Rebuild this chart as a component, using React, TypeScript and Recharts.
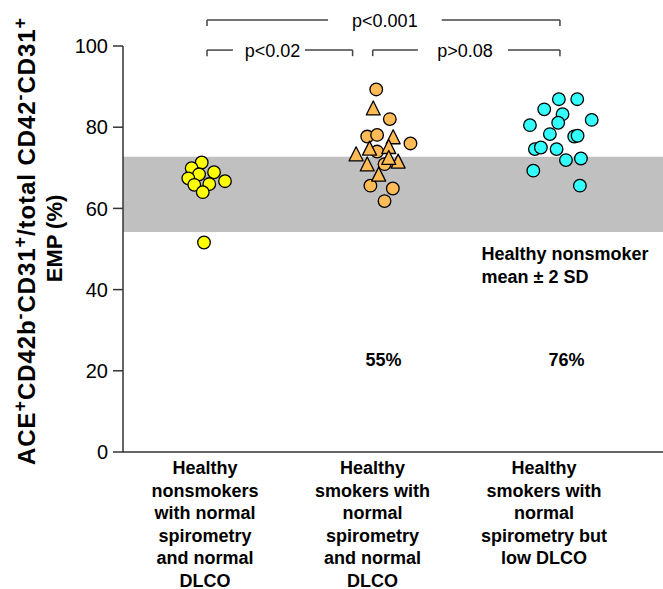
import React from "react";
import {
  ScatterChart,
  Scatter,
  XAxis,
  YAxis,
  ReferenceArea,
  ReferenceLine,
  ReferenceDot,
} from "recharts";

const FONT = "'Liberation Sans', Arial, sans-serif";

const categoryLabels = [
  ["Healthy", "nonsmokers", "with normal", "spirometry", "and normal", "DLCO"],
  ["Healthy", "smokers with", "normal", "spirometry", "and normal", "DLCO"],
  ["Healthy", "smokers with", "normal", "spirometry but", "low DLCO"],
];
const labelShift = [-2, -11, -16];

const yTicks = [0, 20, 40, 60, 80, 100];

// y title, [text, isSuperscript]
const titleParts: [string, boolean][] = [
  ["ACE", false], ["+", true], ["CD42b", false], ["-", true], ["CD31", false], ["+", true],
  ["/total CD42", false], ["-", true], ["CD31", false], ["+", true],
];

// healthy nonsmoker mean ± 2 SD
const bandLow = 54.2;
const bandHigh = 72.7;

// group 0: healthy nonsmokers
const nonsmokerJitter = [-0.03, -0.087, -0.045, 0.04, -0.106, -0.072, 0.013, 0.102, -0.024, -0.017];
const nonsmokerValues = [71.3, 69.9, 68.4, 68.9, 67.4, 65.8, 66.0, 66.7, 64.0, 51.6];

// group 1: smokers, normal DLCO (circles + triangles)
const smokerCircleJitter = [-0.041, 0.036, -0.092, -0.036, 0.153, -0.036, 0.006, -0.074, 0.053, 0.006];
const smokerCircleValues = [89.3, 82.0, 77.7, 78.1, 76.0, 74.0, 70.9, 65.6, 64.9, 61.8];
const smokerTriangleJitter = [-0.058, 0.055, -0.155, -0.079, 0.03, -0.092, 0.083, -0.027, 0.03];
const smokerTriangleValues = [84.5, 77.4, 73.2, 74.6, 75.0, 70.7, 71.4, 68.2, 72.3];

// group 2: smokers, low DLCO
const lowDlcoJitter = [-0.006, 0.098, -0.089, 0.015, 0.18, -0.17, -0.01, -0.057, 0.081, 0.1, -0.142, -0.108, -0.019, 0.034, 0.119, -0.151, 0.113];
const lowDlcoValues = [86.9, 86.9, 84.4, 83.2, 81.8, 80.5, 81.1, 78.3, 77.7, 77.9, 74.6, 75.0, 74.6, 71.9, 72.3, 69.3, 65.6];

const abnormalPct = ["55%", "76%"];

const brackets = [
  { x1: 0, x2: 2, gapFrom: 0.686, gapTo: 1.33, y: 106.4, label: "p<0.001", labelX: 1.008, labelY: 104.6 },
  { x1: 0, x2: 0.825, gapFrom: 0.147, gapTo: 0.555, y: 99.0, label: "p<0.02", labelX: 0.371, labelY: 97.4 },
  { x1: 0.939, x2: 2, gapFrom: 1.195, gapTo: 1.705, y: 99.0, label: "p>0.08", labelX: 1.462, labelY: 97.4 },
];

const X_DOMAIN: [number, number] = [-0.476, 2.584];

const toPoints = (group: number, jitter: number[], values: number[]) =>
  values.map((v, i) => ({ x: group + jitter[i], y: v }));

const nonsmokers = toPoints(0, nonsmokerJitter, nonsmokerValues);
const smokerCircles = toPoints(1, smokerCircleJitter, smokerCircleValues);
const smokerTriangles = toPoints(1, smokerTriangleJitter, smokerTriangleValues);
const lowDlco = toPoints(2, lowDlcoJitter, lowDlcoValues);

const dot = (fill: string) => (p: any) => (
  <circle cx={p.cx} cy={p.cy} r={6.3} fill={fill} stroke="#000" strokeWidth={1.3} />
);

const triangle = (fill: string) => (p: any) => (
  <polygon
    points={`${p.cx},${p.cy - 8} ${p.cx - 7},${p.cy + 6} ${p.cx + 7},${p.cy + 6}`}
    fill={fill}
    stroke="#000"
    strokeWidth={1.3}
    strokeLinejoin="round"
  />
);

const CategoryTick = ({ x, y, payload }: any) => {
  const i = Math.round(payload.value);
  const lines = categoryLabels[i] || [];
  return (
    <g>
      {lines.map((l, k) => (
        <text
          key={k}
          x={x + labelShift[i]}
          y={y + 22 + k * 22.5}
          textAnchor="middle"
          fontSize={18}
          fontWeight="bold"
          fontFamily={FONT}
          fill="#000"
        >
          {l}
        </text>
      ))}
    </g>
  );
};

const YTitle = () => (
  <g fontFamily={FONT} fontWeight="bold" fill="#000">
    <text
      transform="translate(27,233.5) rotate(-90)"
      textAnchor="middle"
      fontSize={24}
      textLength={447}
      lengthAdjust="spacing"
    >
      {titleParts.map(([t, sup], i) => {
        const prevSup = i > 0 && titleParts[i - 1][1];
        const dy = sup ? -9 : prevSup ? 9 : 0;
        return (
          <tspan key={i} dy={dy} fontSize={sup ? 18 : 24}>
            {t}
          </tspan>
        );
      })}
    </text>
    <text transform="translate(53.5,230.5) rotate(-90)" textAnchor="middle" fontSize={22}>
      EMP (%)
    </text>
  </g>
);

const textShape = (label: string, opts: any) => (p: any) => (
  <text x={p.cx} y={p.cy} fontFamily={FONT} fill="#000" {...opts}>
    {label}
  </text>
);

export default function App() {
  const lineStyle = { stroke: "#444", strokeWidth: 1.5 };
  return (
    <div style={{ position: "absolute", left: 8, top: 8, width: 655, height: 581, fontFamily: FONT }}>
      <ScatterChart width={655} height={581} margin={{ top: 38, right: 0, bottom: 12, left: 0 }}>
        <ReferenceArea
          x1={X_DOMAIN[0]}
          x2={X_DOMAIN[1]}
          y1={bandLow}
          y2={bandHigh}
          fill="#c0c0c0"
          fillOpacity={1}
          stroke="none"
        />
        <XAxis
          type="number"
          dataKey="x"
          domain={X_DOMAIN}
          allowDataOverflow
          ticks={[0, 1, 2]}
          tickLine={false}
          tickSize={0}
          tickMargin={0}
          height={125}
          axisLine={{ stroke: "#333", strokeWidth: 1.5 }}
          tick={<CategoryTick />}
        />
        <YAxis
          type="number"
          dataKey="y"
          domain={[0, 100]}
          ticks={yTicks}
          width={115}
          tickSize={10}
          tickMargin={5}
          axisLine={{ stroke: "#333", strokeWidth: 1.5 }}
          tickLine={{ stroke: "#333", strokeWidth: 1.5 }}
          tick={{ fill: "#000", fontSize: 20, fontFamily: FONT }}
          label={{ content: () => <YTitle /> }}
        />
        <Scatter data={nonsmokers} shape={dot("#ffff00")} isAnimationActive={false} />
        <Scatter data={smokerCircles} shape={dot("#ffbb55")} isAnimationActive={false} />
        <Scatter data={smokerTriangles} shape={triangle("#ffbb55")} isAnimationActive={false} />
        <Scatter data={lowDlco} shape={dot("#33ffff")} isAnimationActive={false} />

        {brackets.map((b, i) => [
          <ReferenceLine key={`a${i}`} ifOverflow="visible" {...lineStyle} segment={[{ x: b.x1, y: b.y - 1.5 }, { x: b.x1, y: b.y }]} />,
          <ReferenceLine key={`b${i}`} ifOverflow="visible" {...lineStyle} segment={[{ x: b.x1, y: b.y }, { x: b.gapFrom, y: b.y }]} />,
          <ReferenceLine key={`c${i}`} ifOverflow="visible" {...lineStyle} segment={[{ x: b.gapTo, y: b.y }, { x: b.x2, y: b.y }]} />,
          <ReferenceLine key={`d${i}`} ifOverflow="visible" {...lineStyle} segment={[{ x: b.x2, y: b.y - 1.5 }, { x: b.x2, y: b.y }]} />,
          <ReferenceDot
            key={`t${i}`}
            x={b.labelX}
            y={b.labelY}
            r={0}
            ifOverflow="visible"
            shape={textShape(b.label, { textAnchor: "middle", fontSize: 18 })}
          />,
        ])}

        {abnormalPct.map((t, i) => (
          <ReferenceDot
            key={t}
            x={i + 1 + (i === 0 ? 0 : 0.037)}
            y={21.1}
            r={0}
            ifOverflow="visible"
            shape={textShape(t, { textAnchor: "middle", fontSize: 18, fontWeight: "bold" })}
          />
        ))}
        <ReferenceDot
          x={1.556}
          y={47.3}
          r={0}
          ifOverflow="visible"
          shape={textShape("Healthy nonsmoker", { fontSize: 18, fontWeight: "bold" })}
        />
        <ReferenceDot
          x={1.556}
          y={41.6}
          r={0}
          ifOverflow="visible"
          shape={textShape("mean ± 2 SD", { fontSize: 18, fontWeight: "bold" })}
        />
      </ScatterChart>
    </div>
  );
}
